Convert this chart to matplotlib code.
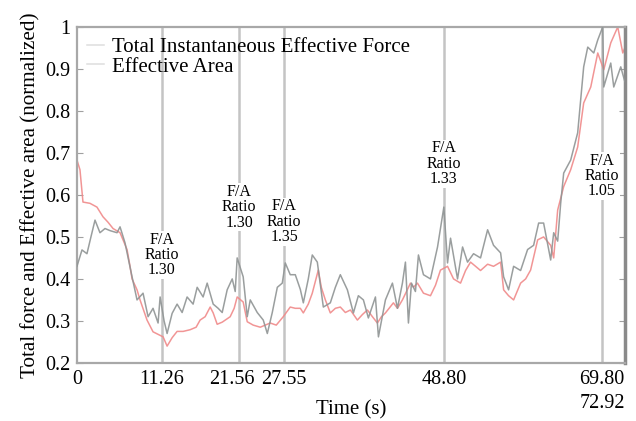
import matplotlib
matplotlib.use("Agg")
import matplotlib.pyplot as plt
import matplotlib.transforms as mtransforms

plt.rcParams["font.family"] = ["Liberation Serif", "DejaVu Serif"]

# Total instantaneous effective force (grey)
force_t = [0.0, 0.67, 1.33, 1.86, 2.40, 3.06, 3.73, 4.40, 5.33, 5.73, 6.39, 7.33, 7.99,
           8.79, 9.46, 10.12, 10.79, 11.06, 11.59, 11.99, 12.66, 13.32, 13.99, 14.65,
           15.45, 15.99, 16.78, 17.32, 18.12, 18.78, 19.32, 19.98, 20.65, 21.05, 21.31,
           22.11, 22.65, 23.05, 23.98, 24.78, 25.32, 25.98, 26.65, 27.31, 27.71, 28.37,
           29.04, 29.71, 30.11, 30.77, 31.30, 31.97, 32.77, 33.70, 34.37, 35.03, 35.97,
           36.77, 37.43, 38.10, 38.76, 39.70, 40.10, 41.03, 41.96, 42.63, 43.29, 43.69,
           44.09, 44.49, 45.02, 45.42, 46.09, 47.02, 47.96, 48.80, 49.29, 49.69, 50.62,
           51.29, 51.95, 52.75, 53.68, 54.62, 55.41, 56.35, 56.75, 57.41, 58.08, 59.01,
           59.94, 60.74, 61.41, 62.07, 63.01, 63.41, 63.94, 64.34, 64.74, 65.67, 66.60,
           67.40, 67.94, 68.74, 69.27, 69.93, 70.07, 71.00, 71.40, 72.33, 72.87]
force_v = [0.43, 0.469, 0.46, 0.50, 0.54, 0.51, 0.52, 0.515, 0.51, 0.524, 0.486, 0.405, 0.35,
           0.366, 0.31, 0.33, 0.295, 0.357, 0.30, 0.27, 0.318, 0.34, 0.32, 0.357,
           0.34, 0.38, 0.357, 0.39, 0.34, 0.33, 0.32, 0.374, 0.40, 0.37, 0.45,
           0.405, 0.31, 0.35, 0.32, 0.302, 0.27, 0.32, 0.38, 0.39, 0.438, 0.41,
           0.41, 0.375, 0.343, 0.40, 0.457, 0.44, 0.333, 0.343, 0.38, 0.41, 0.374,
           0.319, 0.36, 0.35, 0.307, 0.357, 0.262, 0.35, 0.39, 0.33, 0.39, 0.44,
           0.295, 0.39, 0.37, 0.457, 0.41, 0.40, 0.476, 0.571, 0.438, 0.497, 0.40,
           0.476, 0.44, 0.46, 0.45, 0.517, 0.48, 0.462, 0.405, 0.374, 0.43, 0.42,
           0.47, 0.48, 0.533, 0.533, 0.445, 0.51, 0.49, 0.58, 0.652, 0.683, 0.748,
           0.905, 0.952, 0.938, 0.969, 1.0, 0.857, 0.914, 0.857, 0.905, 0.87]

# Effective area (pink)
area_t = [0.0, 0.40, 0.80, 1.73, 2.66, 3.46, 4.13, 4.80, 5.73, 6.13, 6.66, 7.06, 7.33, 7.99,
          8.39, 9.32, 10.12, 10.79, 11.46, 11.99, 12.66, 13.32, 14.12, 15.05, 15.85,
          16.38, 17.05, 17.72, 18.12, 18.65, 19.32, 20.38, 20.91, 21.31, 22.11, 22.65,
          23.44, 24.38, 25.04, 25.71, 26.51, 27.44, 28.37, 29.04, 29.71, 30.11, 30.77,
          31.30, 32.10, 32.50, 33.04, 33.70, 34.37, 35.03, 35.70, 36.37, 37.30, 37.96,
          38.63, 39.30, 39.96, 40.50, 41.03, 42.09, 42.63, 43.29, 43.83, 44.36, 44.76,
          45.29, 46.09, 47.02, 47.69, 48.35, 49.29, 50.09, 51.02, 51.69, 52.35, 53.02,
          53.68, 54.62, 55.41, 56.35, 56.75, 57.41, 58.08, 59.01, 59.68, 60.34, 61.28,
          62.07, 63.01, 63.41, 63.94, 64.74, 65.67, 66.60, 67.40, 68.34, 69.27, 70.07,
          71.00, 71.93, 72.60, 72.87]
area_v = [0.683, 0.66, 0.583, 0.58, 0.571, 0.548, 0.535, 0.52, 0.51, 0.493, 0.47, 0.43, 0.40,
          0.374, 0.35, 0.302, 0.274, 0.268, 0.262, 0.24, 0.26, 0.275, 0.275, 0.279, 0.285,
          0.302, 0.31, 0.333, 0.319, 0.292, 0.297, 0.31, 0.33, 0.357, 0.345, 0.298,
          0.29, 0.285, 0.29, 0.295, 0.29, 0.31, 0.333, 0.33, 0.33, 0.319, 0.34,
          0.366, 0.421, 0.38, 0.35, 0.319, 0.33, 0.333, 0.32, 0.326, 0.302, 0.315,
          0.326, 0.31, 0.295, 0.31, 0.319, 0.343, 0.33, 0.35, 0.37, 0.39, 0.38,
          0.39, 0.366, 0.36, 0.385, 0.421, 0.43, 0.40, 0.39, 0.42, 0.44, 0.43,
          0.42, 0.435, 0.43, 0.44, 0.374, 0.36, 0.35, 0.39, 0.40, 0.421, 0.493,
          0.50, 0.48, 0.45, 0.564, 0.62, 0.66, 0.714, 0.819, 0.857, 0.938, 0.898,
          0.962, 1.0, 0.938, 0.95]

marker_times = [11.26, 21.56, 27.55, 48.80, 69.80]
xtick_labels = ["0", "11.26", "21.56", "27.55", "48.80", "69.80"]
ratio_labels = ["1.30", "1.30", "1.35", "1.33", "1.05"]
ratio_y = [0.457, 0.571, 0.536, 0.674, 0.645]
t_end = 72.92

fig, ax = plt.subplots(figsize=(6.36, 4.21), dpi=100)
fig.subplots_adjust(left=0.121, right=0.983, bottom=0.138, top=0.936)

for t in marker_times:
    ax.axvline(t, color="#c4c4c4", lw=1.8, zorder=1)

ax.plot(force_t, force_v, color="#8f9494", lw=1.1, alpha=0.9, zorder=3,
        label="Total Instantaneous Effective Force")
ax.plot(area_t, area_v, color="#f08a8a", lw=1.1, alpha=0.9, zorder=2,
        label="Effective Area")

for t, r, y in zip(marker_times, ratio_labels, ratio_y):
    ax.text(t, y, "F/A\nRatio\n" + r, ha="center", va="center", fontsize=11.5,
            linespacing=0.95, zorder=4,
            bbox=dict(facecolor="white", edgecolor="none", pad=0.5))

ax.set_xlim(0, t_end)
ax.set_ylim(0.2, 1.0)
ax.set_xticks([0] + marker_times)
ax.set_xticklabels(xtick_labels)
ax.set_yticks([0.2, 0.3, 0.4, 0.5, 0.6, 0.7, 0.8, 0.9, 1.0])
ax.set_yticklabels(["0.2", "0.3", "0.4", "0.5", "0.6", "0.7", "0.8", "0.9", "1"])
ax.tick_params(axis="x", length=0, labelsize=14.5, pad=5)
ax.tick_params(axis="y", direction="in", length=4, color="#a0a0a0",
               labelsize=14.5, right=True, pad=5)

# nudge the crowded 21.56 label to the left, as in the source
lbl = ax.get_xticklabels()[2]
lbl.set_transform(lbl.get_transform() + mtransforms.ScaledTranslation(-7 / 100, 0, fig.dpi_scale_trans))

trans = mtransforms.blended_transform_factory(ax.transData, ax.transAxes)
ax.text(t_end, -0.12, "72.92", transform=trans, ha="right", va="center", fontsize=14.5)

ax.set_xlabel("Time (s)", fontsize=15, labelpad=8)
ax.set_ylabel("Total force and Effective area (normalized)", fontsize=15.2, labelpad=3)

for side in ["left", "bottom", "top"]:
    ax.spines[side].set_color("#a8a8a8")
    ax.spines[side].set_linewidth(1.6)
ax.spines["right"].set_color("#8a8a8a")
ax.spines["right"].set_linewidth(2.5)

leg = ax.legend(loc="upper left", frameon=False, fontsize=15, handlelength=0.8,
                handletextpad=0.4, borderaxespad=0.1, labelspacing=0.0)
for h in leg.get_lines():
    h.set_color("#dadada")

fig.savefig("out.png", dpi=100)
